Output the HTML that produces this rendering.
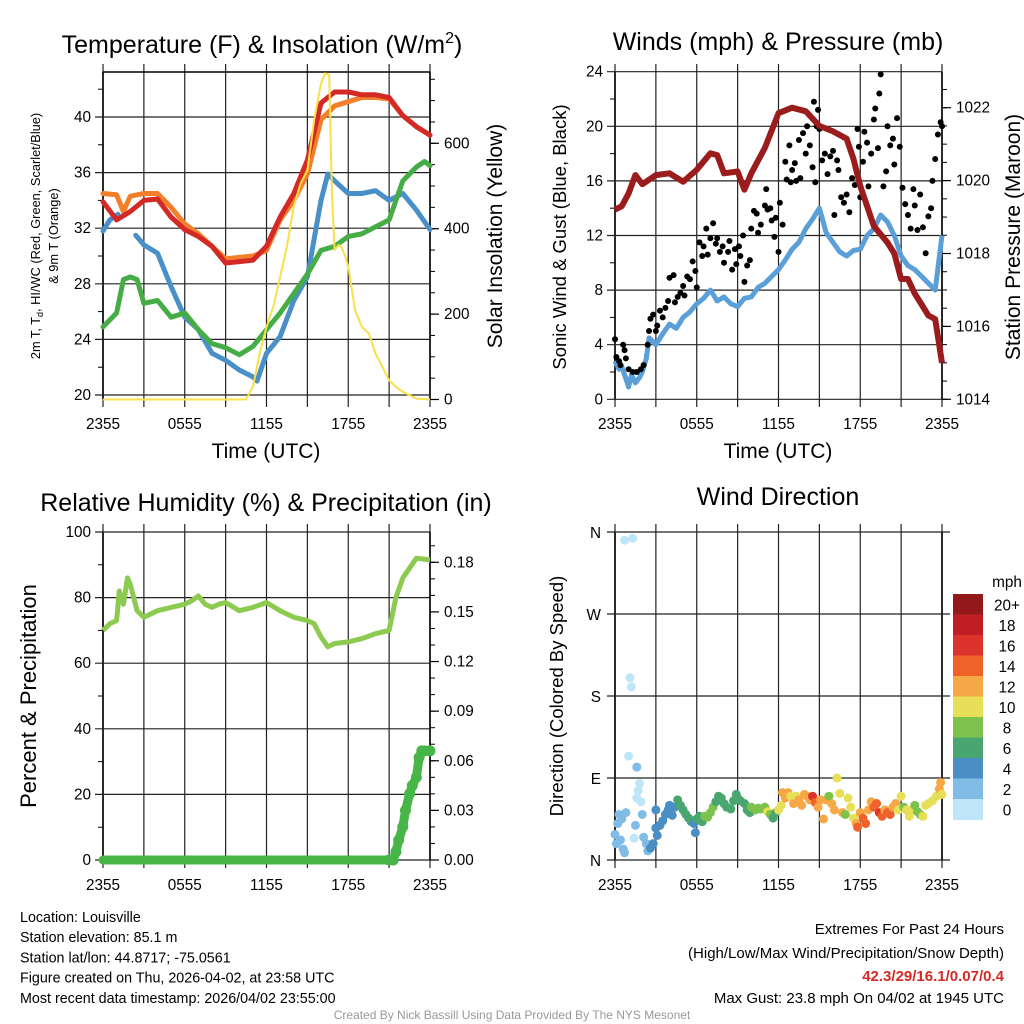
<!DOCTYPE html>
<html><head><meta charset="utf-8"><style>
html,body{margin:0;padding:0;background:#fff}
svg{display:block;font-family:"Liberation Sans",Arial,sans-serif}
</style></head><body>
<svg id="svg" width="1024" height="1024" viewBox="0 0 1024 1024" xmlns="http://www.w3.org/2000/svg">
<g id="g"></g>
</svg>
<script>
// ---------- DATA ----------
const timeTickLabels = ["2355","0555","1155","1755","2355"];
const tempTicks = [20,24,28,32,36,40];
const solarTicks = [0,200,400,600];
const windTicks = [0,4,8,12,16,20,24];
const presTicks = [1014,1016,1018,1020,1022];
const rhTicks = [0,20,40,60,80,100];
const precipTicks = ["0.00","0.03","0.06","0.09","0.12","0.15","0.18"];
const dirTicks = ["N","E","S","W","N"];
const speedBins = ["0","2","4","6","8","10","12","14","16","18","20+"];

const tempT = [0,1,2,3,4,5,6,7,8,9,10,11,12,13,14,15,16,17,18,19,20,21,22,23,24];
const tempRed = [33.9,32.6,33.2,34.0,34.1,32.8,31.9,31.4,30.7,29.5,29.6,29.7,30.7,32.8,34.5,36.9,41.0,41.8,41.8,41.6,41.6,41.4,40.1,39.3,38.7];
const tempOrangeT = [0,1,1.5,2,3,4,5,6,7,8,9,10,11,12,13,14,15,16,17,18,19,20,21,22,23,24];
const tempOrange = [34.5,34.4,33.2,34.3,34.5,34.5,33.5,32.3,31.6,30.7,29.8,29.9,30.0,30.4,32.6,34.0,35.9,39.8,40.8,41.1,41.4,41.4,41.3,40.1,39.3,38.7];
const chillT = [2.4,3,4,5,6,7,8,9,10,11,11.3,12,13,14,15,16,16.5,17,18,19,20,21,22,23,24];
const chill = [31.5,30.8,30.2,27.8,25.6,24.7,23.0,22.5,21.8,21.3,21.0,23.0,24.2,26.8,28.5,34.0,35.9,35.4,34.5,34.5,34.7,34.0,34.5,33.3,31.9];
const chillEarlyT = [0,0.5,1.1];
const chillEarly = [31.8,32.6,33.0];
const dewT = [0,1,1.5,2,2.5,3,4,5,6,7,8,9,10,11,12,13,14,15,16,17,18,19,20,21,22,23,23.6,24];
const dew = [24.9,25.9,28.3,28.5,28.3,26.6,26.8,25.6,25.9,24.7,23.7,23.4,22.9,23.5,24.7,25.9,27.3,28.7,30.4,30.7,31.4,31.6,32.1,32.6,35.4,36.4,36.8,36.5];
const solarT = [0,10.5,11,11.5,12,12.5,13,13.5,14,14.5,15,15.5,16,16.3,16.6,16.8,17,17.3,17.5,17.8,18,18.5,19,19.5,20,20.5,21,21.5,22,22.5,23,24];
const solar = [0,0,30,108,170,217,287,358,452,506,537,655,740,764,760,483,350,362,358,334,311,209,170,155,108,77,45,30,18,10,2,0];

const presT = [0,0.5,1,1.5,2,3,4,5,6,7,7.5,8,9,9.5,10,11,12,13,14,15,16,17,17.5,18,19,20,20.5,21,21.5,22,22.5,23,23.5,24];
const pres = [1019.2,1019.3,1019.65,1020.15,1019.9,1020.15,1020.2,1019.97,1020.3,1020.75,1020.7,1020.2,1020.25,1019.75,1020.2,1020.9,1021.85,1022.0,1021.9,1021.5,1021.35,1021.15,1020.6,1019.85,1018.75,1018.3,1018.0,1017.3,1017.3,1016.9,1016.6,1016.3,1016.2,1015.0];
const windT = [0,0.3,0.5,0.8,1,1.2,1.5,1.8,2,2.3,2.5,3,3.5,4,4.5,5,5.5,6,6.5,7,7.5,8,8.5,9,9.5,10,10.5,11,11.5,12,12.5,13,13.5,14,14.5,15,15.5,16,16.5,17,17.5,18,18.5,19,19.5,20,20.5,21,21.5,22,22.5,23,23.5,24];
const wind = [2.8,2.2,2.4,1.5,0.9,1.8,1.2,1.6,2.0,3.0,4.5,4.0,4.8,5.5,5.2,6.0,6.4,7.0,7.4,8.0,7.2,7.5,7.0,6.8,7.4,7.5,8.2,8.5,9.0,9.5,10.2,11.0,11.5,12.5,13.2,14.0,12.2,11.5,10.8,10.5,10.9,11.0,12.0,12.5,13.5,13.0,12.0,10.5,9.8,9.5,9.0,8.5,8.0,12.0];
const gustT = [0.0,0.1,0.3,0.4,0.6,0.7,0.8,1.0,1.3,1.6,1.9,2.1,2.4,2.5,2.6,2.8,3.0,3.1,3.3,3.5,3.7,3.9,4.0,4.3,4.4,4.6,4.8,5.0,5.1,5.3,5.5,5.7,5.9,6.0,6.2,6.4,6.5,6.7,6.8,7.0,7.2,7.4,7.5,7.7,7.9,8.0,8.3,8.4,8.6,8.8,8.9,9.1,9.2,9.4,9.5,9.7,9.9,10.0,10.2,10.4,10.5,10.7,11.0,11.1,11.2,11.4,11.5,11.7,11.8,12.0,12.1,12.3,12.5,12.6,12.8,12.9,13.0,13.2,13.3,13.5,13.6,13.8,14.0,14.1,14.3,14.5,14.6,14.7,14.8,14.9,15.0,15.2,15.4,15.6,15.8,16.0,16.1,16.3,16.4,16.6,16.8,17.0,17.2,17.4,17.6,17.8,17.9,18.0,18.2,18.3,18.5,18.6,18.8,19.0,19.1,19.3,19.4,19.5,19.7,19.9,20.0,20.2,20.4,20.5,20.7,20.9,21.1,21.3,21.5,21.7,21.9,22.0,22.2,22.4,22.6,22.8,23.0,23.2,23.3,23.5,23.7,23.9,24.0];
const gust = [4.4,3.1,2.8,2.5,4.0,3.6,3.0,2.2,2.0,2.0,2.2,2.5,4.0,5.0,5.9,6.2,5.0,5.4,6.5,6.0,6.7,7.2,8.9,9.1,7.1,7.5,7.8,8.3,7.6,9.0,8.8,10.1,9.4,8.2,11.5,10.5,11.2,12.5,10.6,11.8,12.9,11.4,11.8,10.8,11.2,10.0,10.8,11.6,9.5,11.0,9.9,11.2,10.5,12.0,8.6,9.8,10.2,12.5,13.8,13.6,12.2,12.8,14.2,15.4,13.9,14.0,13.1,11.9,13.3,10.8,14.4,12.8,17.4,16.1,18.6,15.9,16.8,17.3,16.0,19.0,16.2,19.5,18.0,20.0,18.6,17.0,21.8,15.9,20.0,21.2,19.8,17.5,18.0,16.5,17.8,18.2,13.5,17.5,16.8,14.8,14.4,15.0,13.7,16.2,15.7,19.8,18.5,14.8,17.4,19.6,18.8,15.6,18.0,20.5,21.3,18.4,22.4,23.8,15.6,16.7,20.0,18.6,19.1,17.2,20.6,18.5,15.5,14.3,13.5,12.5,15.4,14.2,12.4,15.0,12.6,10.7,13.4,14.0,16.0,17.6,19.4,20.3,20.0];

const rhT = [0,0.5,1,1.2,1.5,1.8,2,2.5,3,3.5,4,5,6,6.5,7,7.5,8,8.5,9,10,11,12,13,14,15,15.5,16,16.5,17,18,19,20,21,21.5,22,22.5,23,24];
const rh = [70,72,73,82,78,86,84,76,74,75,76,77,78,79,80.5,78,77,78,78.5,76,77,78.5,76,74,73,72,68,65,66,66.5,67.5,69,70,80,86,89,92,91.5];
const precipT = [0,1,2,3,4,5,6,7,8,9,10,11,12,13,14,15,16,17,18,19,20,21,21.3,21.5,21.7,22,22.2,22.5,22.7,23,23.2,23.4,23.6,24];
const precip = [0,0,0,0,0,0,0,0,0,0,0,0,0,0,0,0,0,0,0,0,0,0,0,0.005,0.012,0.02,0.03,0.04,0.045,0.05,0.062,0.066,0.066,0.066];

const dirT = [0.0,0.1,0.2,0.3,0.4,0.5,0.6,0.7,0.8,0.7,1.3,1.1,1.2,1.0,1.6,1.8,1.6,1.7,1.9,1.4,1.5,2.0,2.1,2.3,2.4,2.6,2.8,3.0,3.0,3.1,3.3,3.5,3.7,3.9,4.0,4.2,4.4,4.6,4.8,5.0,5.2,5.4,5.6,5.8,5.9,6.0,6.2,6.4,6.6,6.8,7.0,7.2,7.4,7.6,7.8,8.0,8.2,8.5,8.7,8.9,9.0,9.2,9.5,9.7,9.9,10.0,10.3,10.5,10.7,11.0,11.2,11.4,11.6,11.8,12.0,12.2,12.3,12.5,12.7,12.9,13.1,13.3,13.5,13.7,13.9,14.1,14.3,14.5,14.7,14.9,15.1,15.3,15.5,15.7,15.9,16.1,16.3,16.5,16.7,16.9,17.1,17.3,17.5,17.7,17.8,18.0,18.2,18.4,18.6,18.8,19.0,19.2,19.4,19.6,19.8,20.0,20.2,20.4,20.6,20.8,21.0,21.2,21.4,21.6,21.8,22.0,22.2,22.4,22.6,22.8,23.0,23.3,23.6,23.8,23.9,24.0];
const dirDeg = [28,18,40,50,22,45,12,8,52,351,353,200,190,114,102,84,68,76,64,24,38,50,25,18,10,13,18,35,55,27,38,43,50,55,60,49,58,66,60,55,50,46,42,40,30,45,48,42,48,47,52,58,64,70,68,62,58,56,65,72,68,65,62,55,52,58,55,57,56,58,53,50,46,52,55,60,74,68,74,70,62,70,66,60,72,70,66,70,63,58,66,45,66,70,62,55,90,73,52,50,68,58,46,40,36,52,46,40,55,64,58,62,52,48,55,52,50,58,62,55,70,58,55,48,55,60,53,50,48,60,62,65,70,78,85,72];
const dirSpd = [3,3,3,2,3,2.5,2.5,2.8,3.5,0.5,0.3,0.6,0.5,0.3,3,0.5,0.5,0.5,0.8,0.5,2.5,3,2.5,3,3,4,4,4,5,4,4,4.5,4.5,5,4,4.5,5,6,6,6,6,7,6,4.5,4.5,6,7,7.5,8,8,8,8,7,7,7.5,6.5,7,7,6.5,6.5,7,6.5,6,7,7,8,8,8,8.5,9,10,9,7.5,7,10,10,12,12,12.5,11,12,10,12,12,12.5,12.5,13.5,16,14,13,12,12,12,8,12,12,10,10,12,8,10,10,10,12,14,12,14,14,12,12,14,14,16,14,12,14,14,12,12,10,10,8,10,10,10,8,8,9,10,10,10,10,10,12,12,10];
const binColors = ["#bfe6f8","#80bce6","#4a8ec6","#49a670","#7cc24c","#e6df57","#f5a845","#ef632b","#dc342c","#bf1e25","#921819"];

// ---------- HELPERS ----------
const NS="http://www.w3.org/2000/svg";
const G=document.getElementById('g');
const TICK=15.3, TITLE=25, XT=21;
function mk(tag,attrs,parent){const e=document.createElementNS(NS,tag);for(const k in attrs)e.setAttribute(k,attrs[k]);(parent||G).appendChild(e);return e;}
function txt(s,x,y,size,anchor,parent,extra){const e=mk('text',Object.assign({x:x,y:y,'font-size':size,'text-anchor':anchor||'middle',fill:'#000'},extra||{}),parent);e.textContent=s;return e;}
function lin(d0,d1,r0,r1){return v=>r0+(v-d0)/(d1-d0)*(r1-r0);}
function pathFrom(xs,ys,sx,sy){return xs.map((t,i)=>(i?'L':'M')+sx(t).toFixed(1)+','+sy(ys[i]).toFixed(1)).join('');}

function frame(P,name){
  const g=mk('g',{});
  
  
  const sx=lin(0,24,P.x0,P.x1);
  for(let h=0;h<=24;h+=3){
    const x=sx(h);
    const l=mk('line',{x1:x,x2:x,y1:P.y0-8,y2:P.y1+8,stroke:'#222','stroke-width':1.2},g);
    
    
  }
  timeTickLabels.forEach((s,i)=>{
    const t=txt(s,sx(i*6),P.y1+30,TICK,'middle',g);
    
    
  });
  mk('line',{x1:P.x0,x2:P.x0,y1:P.y0,y2:P.y1,stroke:'#000','stroke-width':1.6},g);
  mk('line',{x1:P.x1,x2:P.x1,y1:P.y0,y2:P.y1,stroke:'#000','stroke-width':1.6},g);
  return {g,sx};
}
function hgrid(g,P,y,ext){mk('line',{x1:P.x0-8,x2:P.x1+(ext||0),y1:y,y2:y,stroke:'#222','stroke-width':1.2},g);}
function leftLabels(g,P,vals,sy,fmt){vals.forEach(v=>{const t=txt(fmt?fmt(v):String(v),P.x0-12,sy(v)+5,TICK,'end',g);});}
function rightAxis(g,P,min,max,step,minorStep,sy,labels){
  for(let v=min;v<=max+1e-9;v+=minorStep){const y=sy(v);if(y<P.y0-0.5||y>P.y1+0.5)continue;mk('line',{x1:P.x1,x2:P.x1+5,y1:y,y2:y,stroke:'#000','stroke-width':1},g);}
  labels.forEach(([v,s])=>{const y=sy(v);mk('line',{x1:P.x1,x2:P.x1+9,y1:y,y2:y,stroke:'#000','stroke-width':1.2},g);const t=txt(s,P.x1+14,y+5,TICK,'start',g);});
}
function leftMinor(g,P,vals,sy){vals.forEach(v=>mk('line',{x1:P.x0-5,x2:P.x0,y1:sy(v),y2:sy(v),stroke:'#000','stroke-width':1},g));}
function rotLabel(s,x,y,size,name,parent){const t=txt(s,x,y,size,'middle',parent,{transform:`rotate(-90 ${x} ${y})`});return t;}

// ---------- PANEL 1: TEMPERATURE ----------
(function(){
  const P={x0:103,x1:430,y0:72,y1:399};
  const {g,sx}=frame(P,'temperature-panel');
  const sy=lin(20,40,395,117);
  const syS=lin(0,600,399.5,143.3);
  tempTicks.forEach(v=>hgrid(g,P,sy(v)));
  mk('line',{x1:P.x0,x2:P.x1,y1:P.y0,y2:P.y0,stroke:'#000','stroke-width':1.5},g);
  leftMinor(g,P,[22,26,30,34,38,42],sy);
  leftLabels(g,P,tempTicks,sy);
  rightAxis(g,P,0,750,200,50,syS,solarTicks.map(v=>[v,String(v)]));
  const series=[[tempOrangeT,tempOrange,'#f47f2a','orange-9m-temp-line'],[chillEarlyT,chillEarly,'#4a90c8','wind-chill-early-line'],[chillT,chill,'#4a90c8','wind-chill-line'],[dewT,dew,'#46ad46','dewpoint-line'],[tempT,tempRed,'#d42a26','temperature-line']];
  series.forEach(([xs,ys,c,n])=>{const p=mk('path',{d:pathFrom(xs,ys,sx,sy),fill:'none',stroke:c,'stroke-width':5,'stroke-linejoin':'round','stroke-linecap':'round'},g);});
  const sp=mk('path',{d:pathFrom(solarT,solar,sx,syS),fill:'none',stroke:'#f7e04a','stroke-width':2,'stroke-linejoin':'round'},g);
  
  
  const t1=txt('Temperature (F) & Insolation (W/m',262,53,TITLE,'middle',g);
  
  
  const sup=mk('tspan',{dy:-10,'font-size':16},t1);sup.textContent='2';
  const cl=mk('tspan',{dy:10},t1);cl.textContent=')';
  const xl=txt('Time (UTC)',266,458,XT,'middle',g);
  
  
  const yl=txt('',40,236,12.8,'middle',g,{transform:'rotate(-90 40 236)'});
  
  
  yl.innerHTML='2m T, T<tspan font-size="9" dy="3">d</tspan><tspan dy="-3">, HI/WC (Red, Green, Scarlet/Blue)</tspan>';
  rotLabel('& 9m T (Orange)',58,236,12.8,'y-axis-title-line2',g);
  rotLabel('Solar Insolation (Yellow)',502,236,21,'right-axis-title',g);
})();

// ---------- PANEL 2: WINDS ----------
(function(){
  const P={x0:615,x1:942,y0:72,y1:399};
  const {g,sx}=frame(P,'winds-panel');
  const sy=lin(0,24,399.3,71.7);
  const syP=lin(1014,1022,399.3,107.7);
  windTicks.forEach(v=>hgrid(g,P,sy(v)));
  leftMinor(g,P,[2,6,10,14,18,22],sy);
  leftLabels(g,P,windTicks,sy);
  rightAxis(g,P,1014,1023,2,0.5,syP,presTicks.map(v=>[v,String(v)]));
  const wp=mk('path',{d:pathFrom(windT,wind,sx,sy),fill:'none',stroke:'#5a9fd8','stroke-width':5,'stroke-linejoin':'round'},g);
  
  
  gustT.forEach((t,i)=>{const c=mk('circle',{cx:sx(t),cy:sy(gust[i]),r:3,fill:'#000'},g);});
  const pp=mk('path',{d:pathFrom(presT,pres,sx,syP),fill:'none',stroke:'#9b1c1c','stroke-width':6,'stroke-linejoin':'round'},g);
  
  
  const t=txt('Winds (mph) & Pressure (mb)',778,50,TITLE,'middle',g);
  
  
  const xl=txt('Time (UTC)',778,458,XT,'middle',g);
  
  
  rotLabel('Sonic Wind & Gust (Blue, Black)',566,237,18.5,'y-axis-title',g);
  rotLabel('Station Pressure (Maroon)',1020,237,21,'right-axis-title',g);
})();

// ---------- PANEL 3: RH ----------
(function(){
  const P={x0:103,x1:430,y0:532,y1:860};
  const {g,sx}=frame(P,'humidity-panel');
  const sy=lin(0,100,860,532);
  const syR=lin(0,0.18,860,562.3);
  rhTicks.forEach(v=>hgrid(g,P,sy(v)));
  leftMinor(g,P,[10,30,50,70,90],sy);
  leftLabels(g,P,rhTicks,sy);
  rightAxis(g,P,0,0.195,0.03,0.01,syR,precipTicks.map(s=>[parseFloat(s),s]));
  const rp=mk('path',{d:pathFrom(rhT,rh,sx,sy),fill:'none',stroke:'#8ccb50','stroke-width':5,'stroke-linejoin':'round'},g);
  
  
  const pp=mk('path',{d:pathFrom(precipT,precip,sx,syR),fill:'none',stroke:'#48b548','stroke-width':9,'stroke-linejoin':'round','stroke-linecap':'round'},g);
  
  
  precipT.forEach((t,i)=>{if(t<21)return;const c=mk('circle',{cx:sx(t),cy:syR(precip[i]),r:5.5,fill:'#48b548'},g);});
  const t=txt('Relative Humidity (%) & Precipitation (in)',266,511,TITLE,'middle',g);
  
  
  rotLabel('Percent & Precipitation',36,696,22,'y-axis-title',g);
})();

// ---------- PANEL 4: WIND DIRECTION ----------
(function(){
  const P={x0:615,x1:942,y0:532,y1:860};
  const {g,sx}=frame(P,'wind-direction-panel');
  const sy=lin(0,360,860,532);
  dirTicks.forEach((s,i)=>{const y=sy(i*90);hgrid(g,P,y,8);const t=txt(s,P.x0-14,y+6,TICK,'end',g);});
  dirT.forEach((t,i)=>{const b=Math.min(10,Math.floor(dirSpd[i]/2));const c=mk('circle',{cx:sx(t),cy:sy(dirDeg[i]),r:4.5,fill:binColors[b]},g);});
  const t=txt('Wind Direction',778,505,TITLE,'middle',g);
  
  
  rotLabel('Direction (Colored By Speed)',563,696,18.5,'y-axis-title',g);
  const lg=mk('g',{},g);
  
  
  txt('mph',1007,587,TICK,'middle',lg);
  const top=594,h=20.5;
  speedBins.forEach((s,i)=>{
    const k=10-i;const y=top+i*h;
    const r=mk('rect',{x:953,y:y,width:30,height:h+0.5,fill:binColors[k]},lg);
    
    
    const tt=txt(speedBins[k],1007,y+h/2+6,TICK,'middle',lg);
    
    
  });
})();

// ---------- FOOTER ----------
(function(){
  const g=mk('g',{});
  
  
  ["Location: Louisville","Station elevation: 85.1 m","Station lat/lon: 44.8717; -75.0561","Figure created on Thu, 2026-04-02, at 23:58 UTC","Most recent data timestamp: 2026/04/02 23:55:00"].forEach((s,i)=>{
    const t=txt(s,20,922+i*20.2,14.3,'start',g);
    
    
  });
  const r=[["Extremes For Past 24 Hours",934,'#000',false],["(High/Low/Max Wind/Precipitation/Snow Depth)",958,'#000',false],["42.3/29/16.1/0.07/0.4",981,'#d42a26',true],["Max Gust: 23.8 mph On 04/02 at 1945 UTC",1003,'#000',false]];
  r.forEach(([s,y,c,b])=>{
    const t=txt(s,1004,y,15,'end',g,{fill:c,'font-weight':b?'bold':'normal'});
    
    
  });
  const cr=txt('Created By Nick Bassill Using Data Provided By The NYS Mesonet',512,1019,12,'middle',g,{fill:'#999'});
  
  
})();
</script>
</body></html>
